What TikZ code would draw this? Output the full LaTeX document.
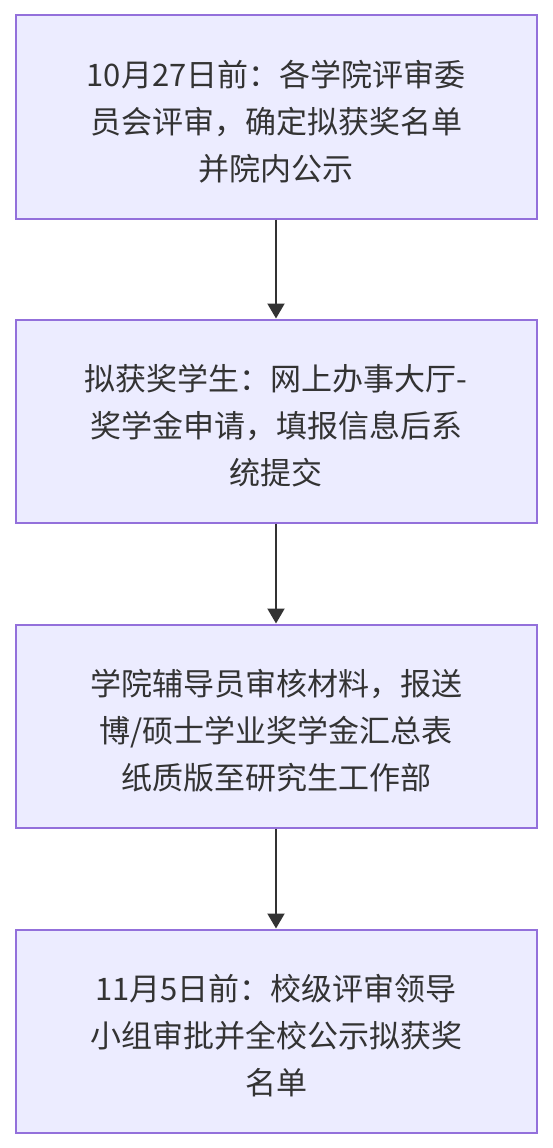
\documentclass[tikz,border=0pt]{standalone}
\usepackage{fontspec}
\setmainfont{Noto Sans CJK SC}
\usetikzlibrary{arrows.meta}
\definecolor{boxfill}{HTML}{ECECFF}
\definecolor{boxline}{HTML}{9370DB}
\definecolor{txt}{HTML}{333333}
\newcommand{\lowerfirst}{\rule{0pt}{35pt}}
\tikzset{
  stepbox/.style={draw=boxline, fill=boxfill, line width=2pt, minimum width=521pt, minimum height=203pt, inner sep=0pt,
    align=center, text=txt, font=\fontsize{31}{47}\selectfont},
  flow/.style={draw=txt, line width=2pt, -{Triangle[width=17pt,length=15pt]}}
}
\begin{document}
\begin{tikzpicture}[x=1pt,y=-1pt]
\useasboundingbox[fill=white] (0,0) rectangle (552,1148);
\node[stepbox] (a) at (276,117) {\lowerfirst{}10月27日前：各学院评审委\\员会评审，确定拟获奖名单\\并院内公示};
\node[stepbox] (b) at (276,421) {\lowerfirst{}拟获奖学生：网上办事大厅-\\奖学金申请，填报信息后系\\统提交};
\node[stepbox] (c) at (276,726) {\lowerfirst{}学院辅导员审核材料，报送\\博/硕士学业奖学金汇总表\\纸质版至研究生工作部};
\node[stepbox] (d) at (276,1031) {\lowerfirst{}11月5日前：校级评审领导\\小组审批并全校公示拟获奖\\名单};
\draw[flow] (a) -- (b);
\draw[flow] (b) -- (c);
\draw[flow] (c) -- (d);
\end{tikzpicture}
\end{document}
